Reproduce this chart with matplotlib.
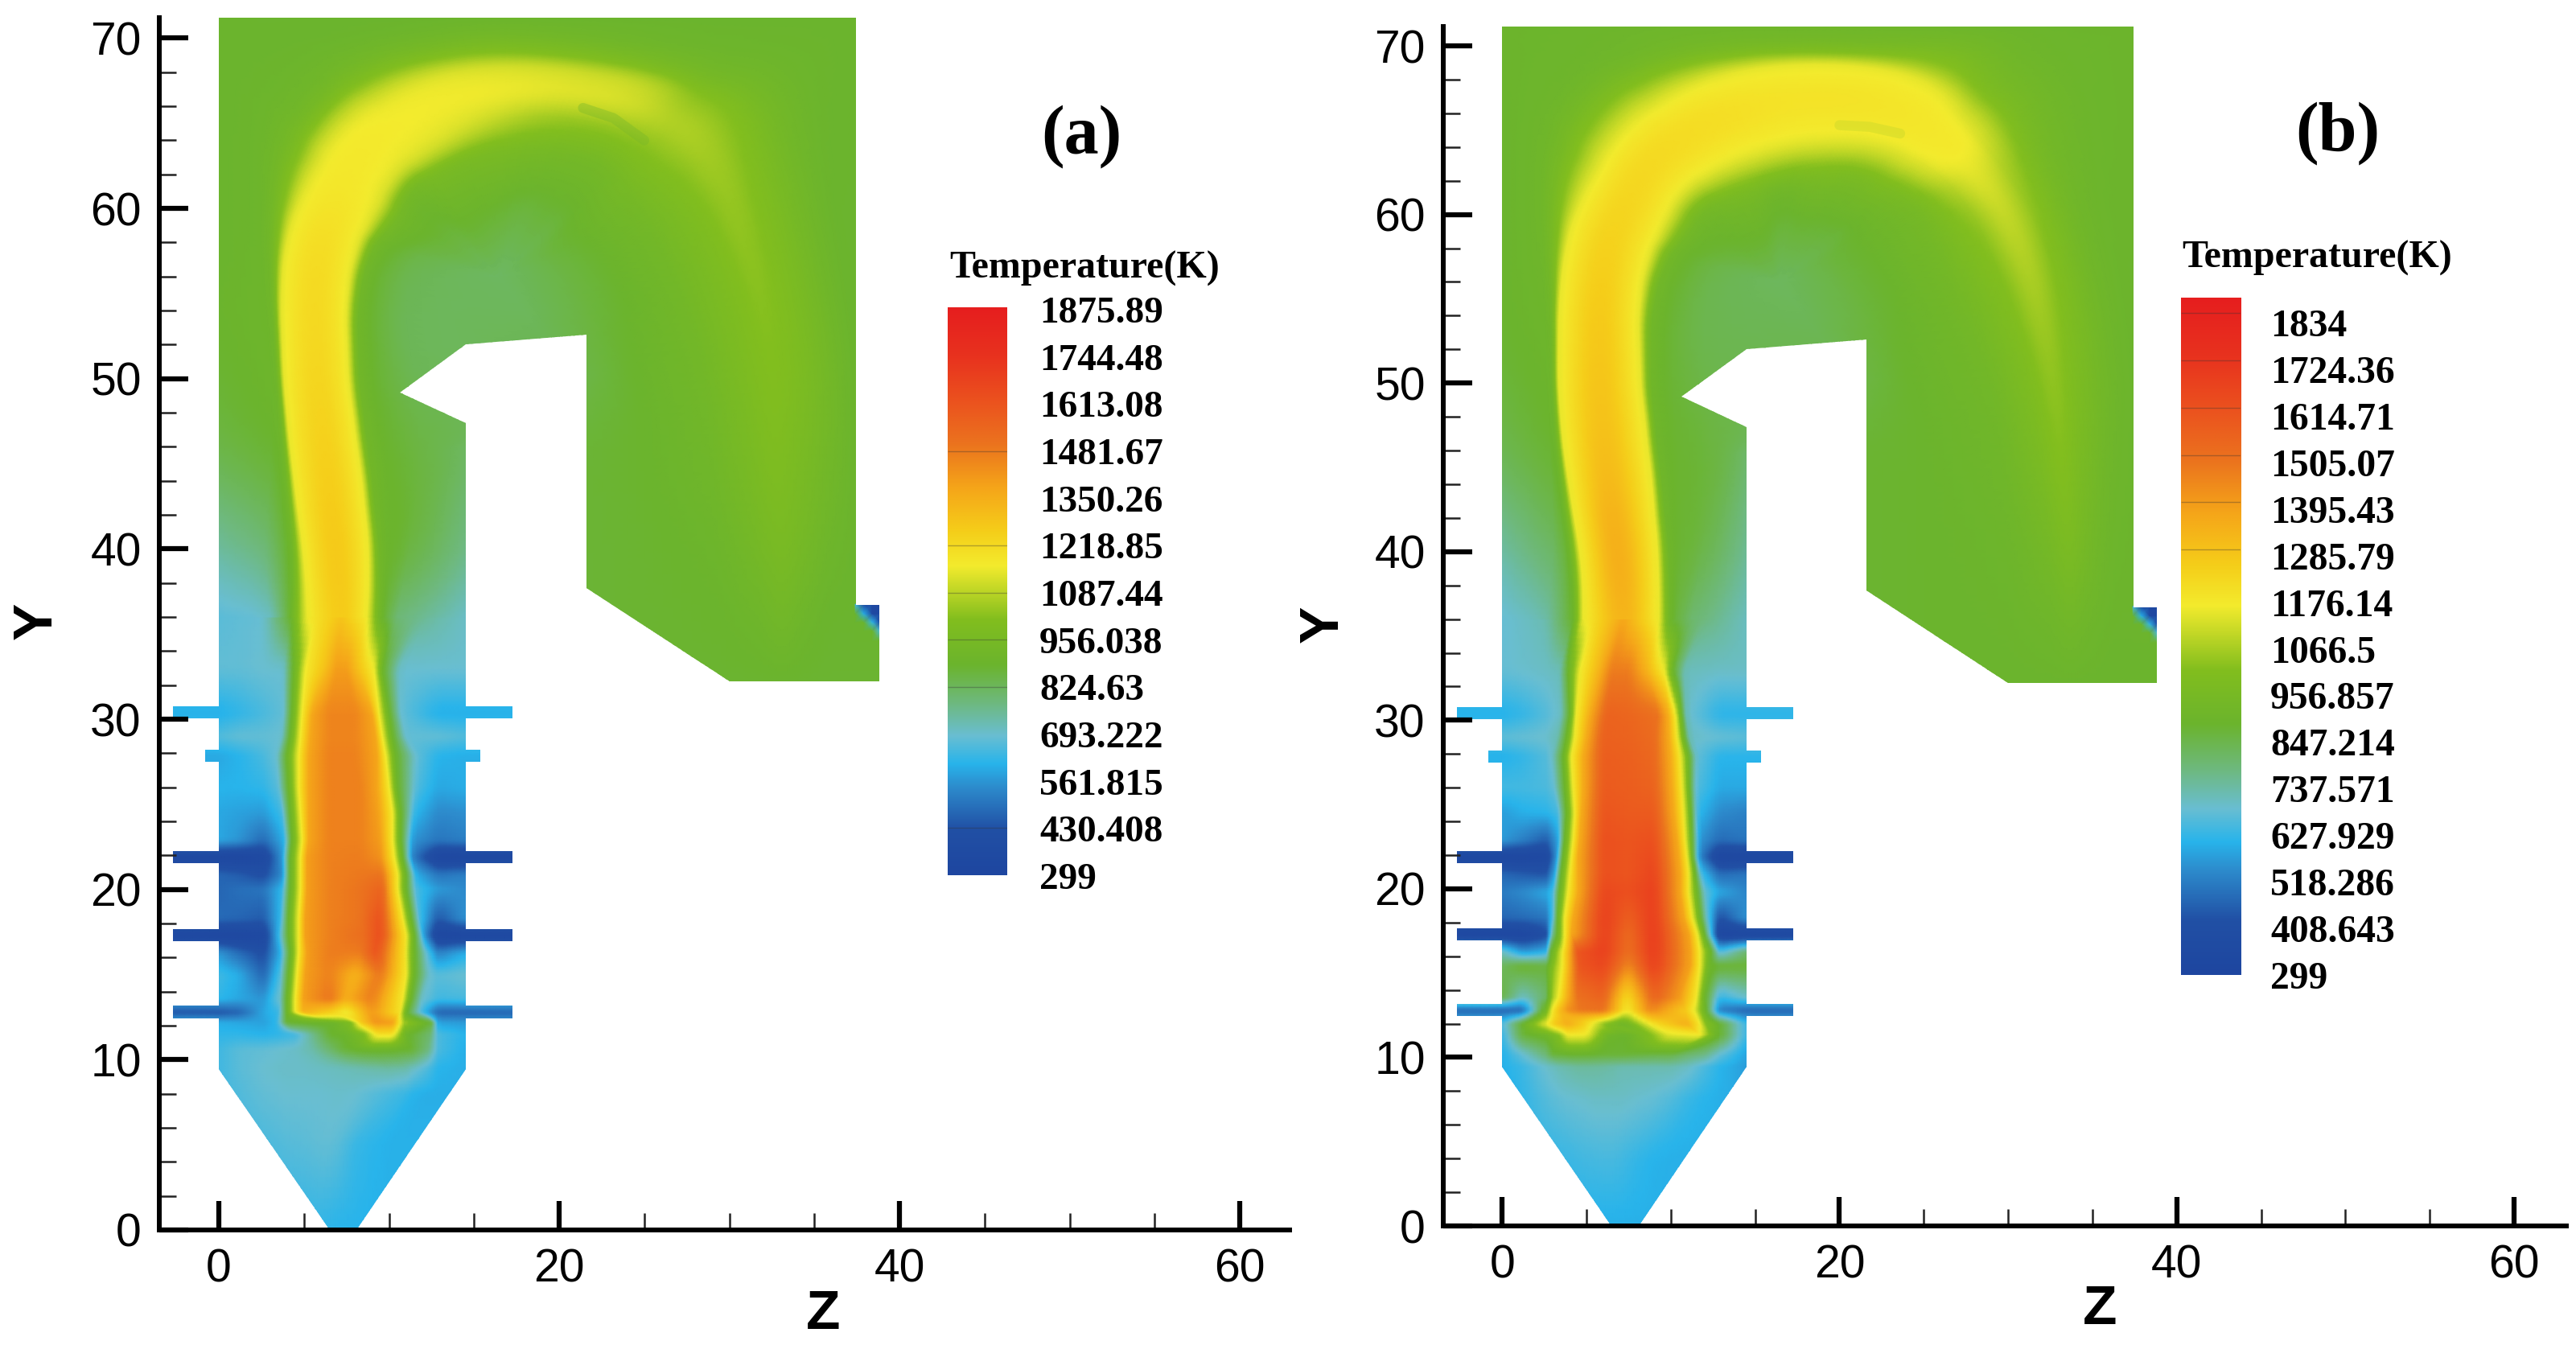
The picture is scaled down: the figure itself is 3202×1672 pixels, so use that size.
import numpy as np
import matplotlib
matplotlib.use("Agg")
import matplotlib.pyplot as plt
from matplotlib.path import Path
from matplotlib.patches import PathPatch
from matplotlib.colors import LinearSegmentedColormap, Normalize

# ---------- colour scale ----------
cmap_stops = [0.0, 0.08, 0.155, 0.196, 0.245, 0.30, 0.37, 0.45, 0.545, 0.607, 0.683, 0.76, 0.84, 0.915, 1.0]
cmap_colors = ["#1e46a0", "#2150a5", "#2d8ccd", "#28b4eb", "#69bed2", "#6eb982", "#6bb42d", "#82be1e",
               "#f3eb2d", "#f5cd19", "#f5a519", "#eb731e", "#eb501e", "#e8321e", "#e61e1e"]

labels_a = ["1875.89", "1744.48", "1613.08", "1481.67", "1350.26", "1218.85", "1087.44",
            "956.038", "824.63", "693.222", "561.815", "430.408", "299"]
labels_b = ["1834", "1724.36", "1614.71", "1505.07", "1395.43", "1285.79", "1176.14", "1066.5",
            "956.857", "847.214", "737.571", "627.929", "518.286", "408.643", "299"]
bar_lines_a = [1481.67, 1218.85, 1087.44, 956.038, 824.63, 430.408]
bar_lines_b = [1834, 1724.36, 1614.71, 1505.07, 1395.43, 1285.79]

# ---------- furnace outline (Z, Y) ----------
burner_y = [12.8, 17.3, 21.9, 27.85, 30.4]
burner_left = [-2.7, -2.7, -2.7, -0.8, -2.7]
burner_right = [17.25, 17.25, 17.25, 15.35, 17.25]
outline_right_part = [(14.5, 47.4), (10.65, 49.2), (14.5, 52.0), (21.6, 52.6), (21.6, 37.7), (30.0, 32.2),
                      (38.8, 32.2), (38.8, 36.7), (37.45, 36.7), (37.45, 71.2), (0.0, 71.2)]
hopper_part = [(0.0, 9.45), (6.5, 0.0), (8.1, 0.0), (14.5, 9.45)]

# ---------- lower furnace temperature, one row per height ----------
lower_y_a = [0, 5, 8, 9.5, 10.6, 11.5, 12.2, 12.8, 13.6, 15, 16.3, 17.3, 18.3, 20, 20.9, 21.9, 22.9, 24.5, 26, 27.85, 29, 30.4, 33, 36]
lower_z_a = [
    [4,5,6,6.5,7,7.5,8,9,10,11],[4,5,6,6.5,7,7.5,8,9,10,11],[4,5,6,7,8,9,10,11,11.5,12.2],[4,5,6,7,8,9,10,11,11.5,12.2],
    [3.5,4.5,5.5,6.5,7.2,8,9,10,11.3,12.3],[3.5,4.5,5.5,6.5,7.5,8.5,9.3,10.2,11,12.4],[3.4,4,5.5,6.8,7.8,8.4,9.2,10.2,10.9,12.5],
    [3.5,4,4.5,5,6.5,7.5,9,10.6,11.1,11.9],[3.6,4,4.5,5,6.5,7.5,9,10.8,11.3,11.9],[3.6,4.1,4.6,5.1,6.5,8,9.5,11,11.5,12.3],
    [3.6,4.2,4.7,5.2,6.5,8.3,9.3,10.9,11.5,12.2],[3.5,4.1,4.7,5.1,6.5,8.5,9.5,11,11.5,12.1],[3.6,4.1,4.7,5.1,6.5,8.3,9.5,10.8,11.3,11.8],
    [3.7,4.2,4.8,5.2,6.5,8.3,9.6,10.5,11,11.6],[3.7,4.2,4.8,5.2,6.5,8.3,9.6,10.5,11,11.6],[3.7,4.2,4.8,5.2,6.5,8.3,9.5,10.3,10.8,11.4],
    [3.8,4.3,4.9,5.3,6.5,8.3,9.5,10.2,10.7,11.4],[3.7,4.2,4.8,5.3,6.5,8.3,9.4,10.2,10.7,11.5],[3.5,4.1,4.7,5.3,6.5,8.3,9.3,10,10.5,11.6],
    [3.4,4,4.7,5.3,6.5,8,9.3,9.8,10.4,11.6],[3.7,4.2,4.8,5.4,6.5,8,9.2,9.6,10.2,11],[3.8,4.3,4.9,5.5,6.5,8,9,9.4,10,10.7],
    [3.8,4.4,5.1,6.2,6.9,7.5,8.2,9.1,9.6,10.6],[4.2,5.2,5.9,6.5,7.2,8,8.7,9.5,10.5,12]]
lower_t_a = [
    [620,620,620,620,620,620,615,610,610,610,605,605,605,605,605],
    [640,640,650,665,670,680,680,670,650,630,615,605,605,605,605],
    [640,660,680,690,690,690,695,690,670,650,630,610,600,600,600],
    [640,670,690,700,700,705,710,720,730,740,730,700,660,610,600],
    [640,670,680,690,700,730,800,860,890,900,900,880,780,650,600],
    [620,620,610,620,640,760,880,900,980,1200,1200,900,800,650,610],
    [600,590,580,620,880,900,900,1000,1280,1420,1400,1050,860,580,570],
    [440,470,590,630,900,1170,1350,1250,1150,1420,1200,880,650,470,470],
    [620,590,560,700,900,1170,1400,1500,1350,1480,1170,900,700,640,650],
    [640,600,470,660,900,1170,1400,1470,1330,1500,1170,900,700,670,690],
    [560,480,410,600,900,1170,1400,1480,1480,1620,1200,900,680,520,600],
    [320,320,340,620,900,1170,1400,1470,1520,1640,1170,900,560,320,320],
    [480,470,450,620,900,1170,1400,1470,1500,1630,1170,900,650,440,560],
    [470,490,500,620,900,1170,1400,1470,1500,1560,1170,900,650,570,540],
    [470,450,410,540,900,1170,1400,1470,1490,1500,1170,900,600,500,520],
    [320,320,340,560,900,1170,1400,1470,1480,1430,1170,900,520,320,320],
    [590,560,480,600,900,1170,1380,1470,1470,1400,1170,900,560,500,520],
    [590,580,570,640,900,1170,1380,1470,1470,1390,1170,900,620,540,550],
    [610,610,620,670,900,1170,1380,1470,1470,1380,1170,900,660,590,600],
    [590,610,650,690,900,1170,1380,1470,1470,1380,1170,900,680,610,600],
    [660,680,680,690,900,1170,1380,1460,1460,1380,1170,900,680,680,660],
    [600,620,650,680,900,1170,1380,1460,1460,1380,1170,900,680,600,600],
    [680,680,690,690,900,1170,1290,1400,1400,1290,1170,900,690,690,690],
    [670,678,687,880,1170,1212,1248,1290,1226,1170,900,790,757,732,701]]

lower_y_b = [0, 4, 7.6, 9.45, 10.2, 11.3, 12, 12.8, 13.6, 15.4, 16.3, 17.3, 18.3, 19.8, 20.9, 21.9, 22.9, 24.5, 26, 27.85, 29, 30.4, 33, 36]
lower_z_b = [
    [4,5,6,6.5,7,7.5,8,9,10,11],[4,5,6,6.5,7,7.5,8,9,10,11],[3.5,4.5,5.5,6.5,7,8,9,10,11,12],[3.5,4.5,5.5,6.5,7,8,9,10,11,12],
    [3,4,5,6,7,8,9,10,11,12],[3.4,3.9,5,6.3,7.4,8.8,9.9,11.8,12.3,12.7],[3.2,3.9,4.8,5.4,6.1,7.2,9,10.9,11.6,12.1],
    [3,3.4,3.9,4.6,6,7.4,8.8,10.9,11.4,12.1],[3,3.4,3.9,4.5,6,7.4,9,10.5,11.5,12],[3,3.6,4,4.6,6,7.5,9,11.2,11.7,12.3],
    [2.9,3.6,4,4.5,6,7.5,9,11.2,11.7,12.4],[3,3.3,3.7,4.1,6,7.5,9,11.1,11.6,12.2],[3,3.3,3.7,4.2,6,7.5,9,10.8,11.3,12.1],
    [3,3.4,3.9,4.5,6,7.5,9,10.6,11.1,12],[3.1,3.5,4,4.5,6,7.5,9,10.6,11.1,11.8],[3.2,3.6,4.1,4.5,6,7.5,9,10.5,11,11.7],
    [3.3,3.7,4.2,4.6,6,7.5,9,10.4,10.9,11.7],[3.3,3.8,4.3,4.7,6,7.5,9,10.2,10.8,11.6],[3.1,3.7,4.2,4.8,6,7.5,9,10.1,10.7,11.5],
    [3,3.6,4.1,4.8,6,7.5,9,10,10.6,11.5],[3.3,3.8,4.3,5,6,7.5,9,9.9,10.4,11.1],[3.5,4,4.4,5.2,6.2,7.5,9.2,9.85,10.3,10.9],
    [3.4,3.9,4.6,5.7,6.5,7.5,8.6,9.6,10.1,10.8],[4.2,4.8,5.6,6.4,7.2,8.2,9.3,10,11.2,12]]
lower_t_b = [
    [600,600,600,600,600,600,600,600,600,600,600,600,600,600,600],
    [610,610,620,630,640,645,645,640,630,620,605,600,600,600,600],
    [590,620,660,680,690,700,700,700,690,680,660,630,610,600,590],
    [600,630,690,720,740,740,730,720,720,720,720,700,650,610,570],
    [600,680,790,860,880,880,870,870,860,850,850,800,770,680,580],
    [620,860,900,1000,1150,1150,900,880,1000,1130,1150,1000,900,880,620],
    [650,880,1150,1280,1350,1250,1150,1000,900,1200,1350,1200,1000,880,620],
    [470,470,950,1170,1300,1420,1480,1500,1150,1450,1250,1150,880,520,470],
    [850,700,800,1050,1170,1350,1500,1550,1200,1550,1400,1170,900,620,700],
    [820,880,860,1000,1170,1350,1600,1650,1430,1680,1360,1170,900,880,870],
    [700,560,600,880,1170,1350,1600,1680,1500,1700,1360,1170,880,640,800],
    [320,320,400,750,900,1150,1350,1680,1520,1700,1360,1150,750,320,320],
    [470,480,500,650,890,1150,1350,1680,1560,1690,1350,1150,700,420,560],
    [510,540,590,640,890,1150,1350,1650,1620,1680,1350,1150,680,590,530],
    [470,450,430,580,890,1150,1350,1620,1600,1660,1350,1150,640,480,500],
    [320,320,340,550,880,1150,1350,1620,1600,1640,1350,1150,540,320,320],
    [570,520,450,580,880,1150,1350,1620,1600,1620,1350,1150,560,480,500],
    [570,600,610,640,880,1150,1350,1600,1580,1580,1350,1150,620,540,520],
    [640,640,650,680,880,1150,1350,1580,1570,1550,1350,1150,660,590,590],
    [600,620,660,700,880,1150,1350,1570,1560,1530,1350,1150,680,610,610],
    [670,680,690,720,880,1150,1350,1560,1550,1520,1350,1150,700,680,670],
    [600,620,660,700,880,1150,1350,1550,1540,1500,1350,1150,700,610,610],
    [680,690,700,710,880,1150,1320,1470,1470,1320,1150,880,710,700,700],
    [680,698,720,880,1150,1223,1297,1370,1265,1150,880,800,777,751,703]]

# ---------- upper furnace: sections from the outer wall to the inner side ----------
upper_outer = [(0,36),(0,40),(0,46),(0,53),(0,58),(0,62),(0,66),(0,71.3),(6,71.3),(11,71.3),(16.5,71.3),(22,71.3),
               (28,71.3),(33,71.3),(37.5,71.3),(37.5,66),(37.5,60),(39,52),(39,46),(39,40),(39,36),(39,32)]
upper_inner = [(15,36),(15,40),(15,46),(21,50),(16.5,56),(16.5,56),(16.5,56),(16.5,56),(16.5,56),(16.5,56),(16.5,56),(16.5,56),
               (16.5,56),(16.5,56),(16.5,56),(16.5,56),(16.5,56),(21,50),(21,46),(21,40),(21,36),(21,32)]
upper_d_a = [
    [0,3,4.2,5.2,7.2,8.7,9.5,10.5],[0,2.4,4.5,5.1,6.9,9,9.6,11.1],[0,3.4,3.7,4.1,6.3,8.2,8.9,12.3],[0,2.8,3.1,3.4,5.1,6.7,7.3,10.5],
    [0,2.4,3.1,3.7,5.8,7.9,8.7,11],[0,2.7,3.7,5,7,9.1,10.3,13],[0,2.7,4.7,6.7,8.9,11.1,12.6,15.5],[0,4.7,7.7,9.9,11.9,13.9,15.3,18.5],
    [0,1.7,3.7,5.9,8,10,11.5,15],[0,1,2.2,3.8,5.7,7.7,9.3,13],[0,1,1.9,2.7,4.2,5.8,7.8,10.6],[0,1.4,2.4,3.4,4.8,6.2,8.4,12],
    [0,2,3.4,4.8,6.5,8,10.5,14.5],[0,3,5.2,7,9,11,13.5,18],[0,4,7,9.5,12,14.5,17.5,22],[0,2.5,4.5,6.5,9,11.5,14,20],[0,1.5,3,4.8,6.7,8.6,12,18],
    [0,1.55,2.8,4.5,6.2,7.9,10,14],[0,1.55,2.8,4.7,6.5,8.3,10.5,14],[0,1.55,3,4.6,5.9,7.4,9.8,14],[0,1.55,3.5,4.8,5.9,7.2,9.5,14],[0,1.55,3.5,4.8,5.9,7.2,9.5,14]]
upper_t_a = [
    [670,690,880,1170,1290,1170,900,790,690],[740,790,900,1170,1300,1170,900,880,760],[860,890,900,1170,1270,1170,900,860,810],
    [890,900,920,1160,1240,1170,900,815,845],[885,895,930,1160,1230,1160,900,830,815],[885,895,950,1160,1200,1160,920,860,815],
    [885,895,950,1160,1180,1150,920,870,815],[885,890,920,1160,1175,1150,910,870,815],[885,890,950,1150,1170,1140,950,880,815],
    [885,900,960,1150,1165,1130,950,880,815],[890,930,1000,1130,1165,1100,960,885,815],[885,920,990,1120,1145,1050,940,860,815],
    [885,900,960,1110,1130,1040,930,870,815],[885,895,930,1030,1085,1030,940,860,815],[885,895,940,1020,1080,1020,945,865,815],
    [885,890,930,995,1060,1000,940,860,815],[885,885,925,985,1040,990,925,850,815],[885,885,925,985,1020,985,930,885,845],
    [885,885,920,965,1000,960,915,885,875],[885,885,900,945,970,940,895,880,875],[885,885,885,905,930,905,885,880,875],
    [880,880,880,880,880,880,880,880,880]]
upper_d_b = [
    [0,2.6,4.2,4.8,7.2,9.3,10,11.2],[0,3.3,4.2,4.9,6.9,9.3,10,11.8],[0,2.8,3.1,3.4,6,8.8,9.4,12.8],[0,2.4,2.7,3.05,5.3,7.3,7.9,10.9],
    [0,2.5,3.1,3.6,6,8.5,9.5,12.5],[0,2.2,3.3,4.7,7.2,9.8,11.3,14],[0,2.7,4.3,6.6,9,11.5,13.3,16.5],[0,4.7,7.2,9.7,12.2,14.6,16.3,20],
    [0,1.7,3.2,5.7,8.2,10.8,12.8,16],[0,1,1.8,3.3,5.8,8.5,10.6,14],[0,1,1.7,2.3,4.5,7.3,9.8,12],[0,1,1.7,2.5,4.5,7.1,9.3,12],
    [0,1.7,2.9,4,6.5,8.8,11.3,15],[0,2.7,5.7,8.2,10,11.8,14.3,18],[0,4.7,8.7,11.7,13.2,14.8,17.3,21],[0,3,6,8.5,10,11.5,14,20],[0,1.5,3,5,6.6,8.5,12,18],
    [0,1.55,3,5,6.5,8,10,14],[0,1.55,3,4.8,5.9,7.2,9.5,14],[0,1.55,3,4.3,5.3,6.5,9,14],[0,1.55,3,4.3,5.3,6.5,9,14],[0,1.55,3,4.3,5.3,6.5,9,14]]
upper_t_b = [
    [680,720,880,1150,1370,1150,880,800,690],[730,820,880,1150,1400,1150,880,860,730],[840,880,900,1150,1330,1150,880,870,780],
    [880,890,900,1150,1300,1150,890,830,845],[880,900,950,1150,1270,1150,900,830,815],[880,900,960,1150,1250,1150,900,850,815],
    [880,900,960,1150,1240,1150,900,860,815],[885,890,950,1150,1230,1150,910,870,815],[890,900,950,1150,1220,1150,930,870,815],
    [900,920,960,1150,1210,1150,940,870,815],[900,930,1000,1150,1190,1150,900,860,815],[900,930,1000,1150,1190,1150,960,880,815],
    [890,950,1030,1150,1180,1150,950,870,815],[885,900,960,1150,1170,1150,960,865,815],[885,890,950,1150,1165,1140,950,865,815],
    [885,890,930,1060,1130,1060,930,860,815],[885,885,910,1010,1090,1010,930,850,815],[885,885,910,985,1040,985,920,885,845],
    [885,885,900,965,1020,965,905,880,875],[885,885,890,935,975,935,890,880,875],[885,885,885,900,920,900,885,880,875],
    [880,880,880,880,880,880,880,880,880]]

# ---------- cold spot in the outlet corner ----------
corner_z = [37.4, 37.9, 38.4, 38.85]
corner_y = [34.6, 35.2, 35.7, 36.2, 36.75]
corner_t = [[885, 885, 885, 885], [885, 885, 885, 650], [885, 885, 620, 340], [885, 600, 340, 320], [640, 340, 320, 320]]

# ---------- faint streak at the top of the arch ----------
streak_z_a, streak_y_a = [21.4, 23.2, 25.0], [65.9, 65.3, 64.0]
streak_z_b, streak_y_b = [20.0, 21.8, 23.6], [65.3, 65.2, 64.8]

W, H = 3202, 1672
plt.rcParams["font.family"] = ["Liberation Sans", "DejaVu Sans"]
fig = plt.figure(figsize=(W / 100, H / 100), dpi=100, facecolor="white")
cmap = LinearSegmentedColormap.from_list("tec", list(zip(cmap_stops, cmap_colors)), N=1024)


def box(v, w):
    k = np.ones(w) / w
    p = w // 2
    left = 2 * v[0] - v[p:0:-1]
    right = 2 * v[-1] - v[-2:-p - 2:-1]
    return np.convolve(np.concatenate([left, v, right]), k, mode="valid")


def field_mesh(outer, inner, fr, t, fi=8, fj=6, wi=5, wj=5, ws=0):
    outer, inner, fr, t = map(lambda a: np.asarray(a, float), (outer, inner, fr, t))
    ns, nk = fr.shape
    ii = np.linspace(0, ns - 1, (ns - 1) * fi + 1)
    jj = np.linspace(0, nk - 1, (nk - 1) * fj + 1)
    oz, oy = np.interp(ii, np.arange(ns), outer[:, 0]), np.interp(ii, np.arange(ns), outer[:, 1])
    iz, iy = np.interp(ii, np.arange(ns), inner[:, 0]), np.interp(ii, np.arange(ns), inner[:, 1])
    fr1 = np.array([box(np.interp(ii, np.arange(ns), fr[:, k]), wi) for k in range(nk)]).T
    t1 = np.array([box(np.interp(ii, np.arange(ns), t[:, k]), wi) for k in range(nk)]).T
    fr2 = np.array([np.interp(jj, np.arange(nk), r) for r in fr1])
    t2 = np.array([box(np.interp(jj, np.arange(nk), r), wj) for r in t1])
    z = oz[:, None] + fr2 * (iz - oz)[:, None]
    y = oy[:, None] + fr2 * (iy - oy)[:, None]
    if ws:
        nj = z.shape[1]
        zs = np.array([box(z[:, j], ws) for j in range(nj)]).T
        ys = np.array([box(y[:, j], ws) for j in range(nj)]).T
        wt = np.minimum(1, np.arange(nj) / fj) * np.minimum(1, (nj - 1 - np.arange(nj)) / fj)
        z = z * (1 - wt) + zs * wt
        y = y * (1 - wt) + ys * wt
    return z, y, t2


def outline():
    pts = list(hopper_part)
    h = 0.36
    for y, zr in zip(burner_y, burner_right):
        pts += [(14.5, y - h), (zr, y - h), (zr, y + h), (14.5, y + h)]
    pts += outline_right_part
    for y, zl in reversed(list(zip(burner_y, burner_left))):
        pts += [(0, y + h), (zl, y + h), (zl, y - h), (0, y - h)]
    pts.append(pts[0])
    return Path(pts, closed=True)


def panel(rect_px, xlim, ylim, vmax, low_y, low_z, low_t, up_d, up_t, streak, streak_alpha, letter, letter_xy, zlab, ylab,
          bar_px, labels, bar_lines, lab_x, lab_top, lab_bot, title_xy, fs, title_fs):
    l, t_, r, b = rect_px
    ax = fig.add_axes([l / W, 1 - b / H, (r - l) / W, (b - t_) / H])
    norm = Normalize(299, vmax)
    clip = PathPatch(outline(), transform=ax.transData, fc="none", ec="none")

    # lower furnace
    ly = np.asarray(low_y, float)
    kz = np.array([[-3, 0, 1.2, 2.6] + list(z) + [12.9, 14.5, 18] for z in low_z], float)
    lt = np.asarray(low_t, float)
    kt = np.column_stack([lt[:, 0], lt, lt[:, -1]])
    outer = np.column_stack([np.full_like(ly, -3), ly])
    inner = np.column_stack([np.full_like(ly, 18), ly])
    z, y, f = field_mesh(outer, inner, (kz + 3) / 21, kt, wi=3, wj=3)
    m = ax.pcolormesh(z, y, f, shading="gouraud", cmap=cmap, norm=norm, zorder=1)
    m.set_clip_path(clip)

    # upper furnace
    o, i = np.asarray(upper_outer, float), np.asarray(upper_inner, float)
    L = np.hypot(*(i - o).T)
    d = np.column_stack([np.asarray(up_d, float), L])
    z, y, f = field_mesh(o, i, d / L[:, None], up_t, fi=12, fj=8, wi=11, wj=7, ws=19)
    m = ax.pcolormesh(z, y, f, shading="gouraud", cmap=cmap, norm=norm, zorder=1.1)
    m.set_clip_path(clip)

    # outlet corner
    m = ax.pcolormesh(corner_z, corner_y, corner_t, shading="gouraud", cmap=cmap, norm=norm, zorder=1.2)
    m.set_clip_path(clip)

    ax.plot(streak[0], streak[1], color="#7ab82a", lw=9, alpha=streak_alpha, solid_capstyle="round", zorder=1.3)

    ax.set_xlim(*xlim)
    ax.set_ylim(*ylim)
    ax.set_xticks([0, 20, 40, 60])
    ax.set_yticks(np.arange(0, 71, 10))
    ax.set_xticks(np.arange(5, 61, 5), minor=True)
    ax.set_yticks(np.arange(2, 71, 2), minor=True)
    ax.tick_params(which="major", direction="in", length=26, width=4.5, labelsize=41, pad=16, color="black")
    ax.tick_params(which="minor", direction="in", length=15, width=1.8, color="#222222")
    for s in ["top", "right"]:
        ax.spines[s].set_visible(False)
    for s in ["left", "bottom"]:
        ax.spines[s].set_linewidth(4.3)
    ax.patch.set_alpha(0)

    fig.text(zlab[0] / W, 1 - zlab[1] / H, "Z", fontsize=50, fontweight="bold", ha="center", va="center")
    fig.text(ylab[0] / W, 1 - ylab[1] / H, "Y", fontsize=50, fontweight="bold", ha="center", va="center", rotation=90)
    fig.text(letter_xy[0] / W, 1 - letter_xy[1] / H, letter, fontsize=62, fontweight="bold",
             family="Liberation Serif", ha="center", va="center")

    # colour bar
    bl, bt, br, bb = bar_px
    cax = fig.add_axes([bl / W, 1 - bb / H, (br - bl) / W, (bb - bt) / H])
    grad = np.linspace(vmax, 299, 700)[:, None]
    cax.imshow(grad, aspect="auto", cmap=cmap, norm=norm, extent=[0, 1, 299, vmax])
    cax.hlines(bar_lines, 0, 1, color="#333333", lw=1, alpha=0.35)
    vals = np.linspace(lab_top, lab_bot, len(labels))
    for lab, yy in zip(labels, vals):
        fig.text(lab_x / W, 1 - yy / H, lab, fontsize=fs, fontweight="bold", family="Liberation Serif",
                 ha="left", va="center")
    cax.axis("off")
    fig.text(title_xy[0] / W, 1 - title_xy[1] / H, "Temperature(K)", fontsize=title_fs, fontweight="bold",
             family="Liberation Serif", ha="left", va="center")


panel((198, 22, 1603, 1529), (-3.5, 62.93), (0, 71.2), 1884, lower_y_a, lower_z_a, lower_t_a, upper_d_a, upper_t_a,
      (streak_z_a, streak_y_a), 0.4,
      "(a)", (1344, 170), (1023, 1634), (46, 772), (1178, 382, 1252, 1088), labels_a, bar_lines_a, 1292, 390, 1094, (1180, 334), 34, 34.6)
panel((1794, 33, 3190, 1524), (-3.49, 63.1), (0, 71.15), 1870, lower_y_b, lower_z_b, lower_t_b, upper_d_b, upper_t_b,
      (streak_z_b, streak_y_b), 0.15,
      "(b)", (2906, 166), (2610, 1628), (1645, 776), (2711, 370, 2785, 1212), labels_b, bar_lines_b, 2822, 406, 1217, (2712, 321), 34.3, 34.6)

fig.savefig("out.png", dpi=100, facecolor="white")
